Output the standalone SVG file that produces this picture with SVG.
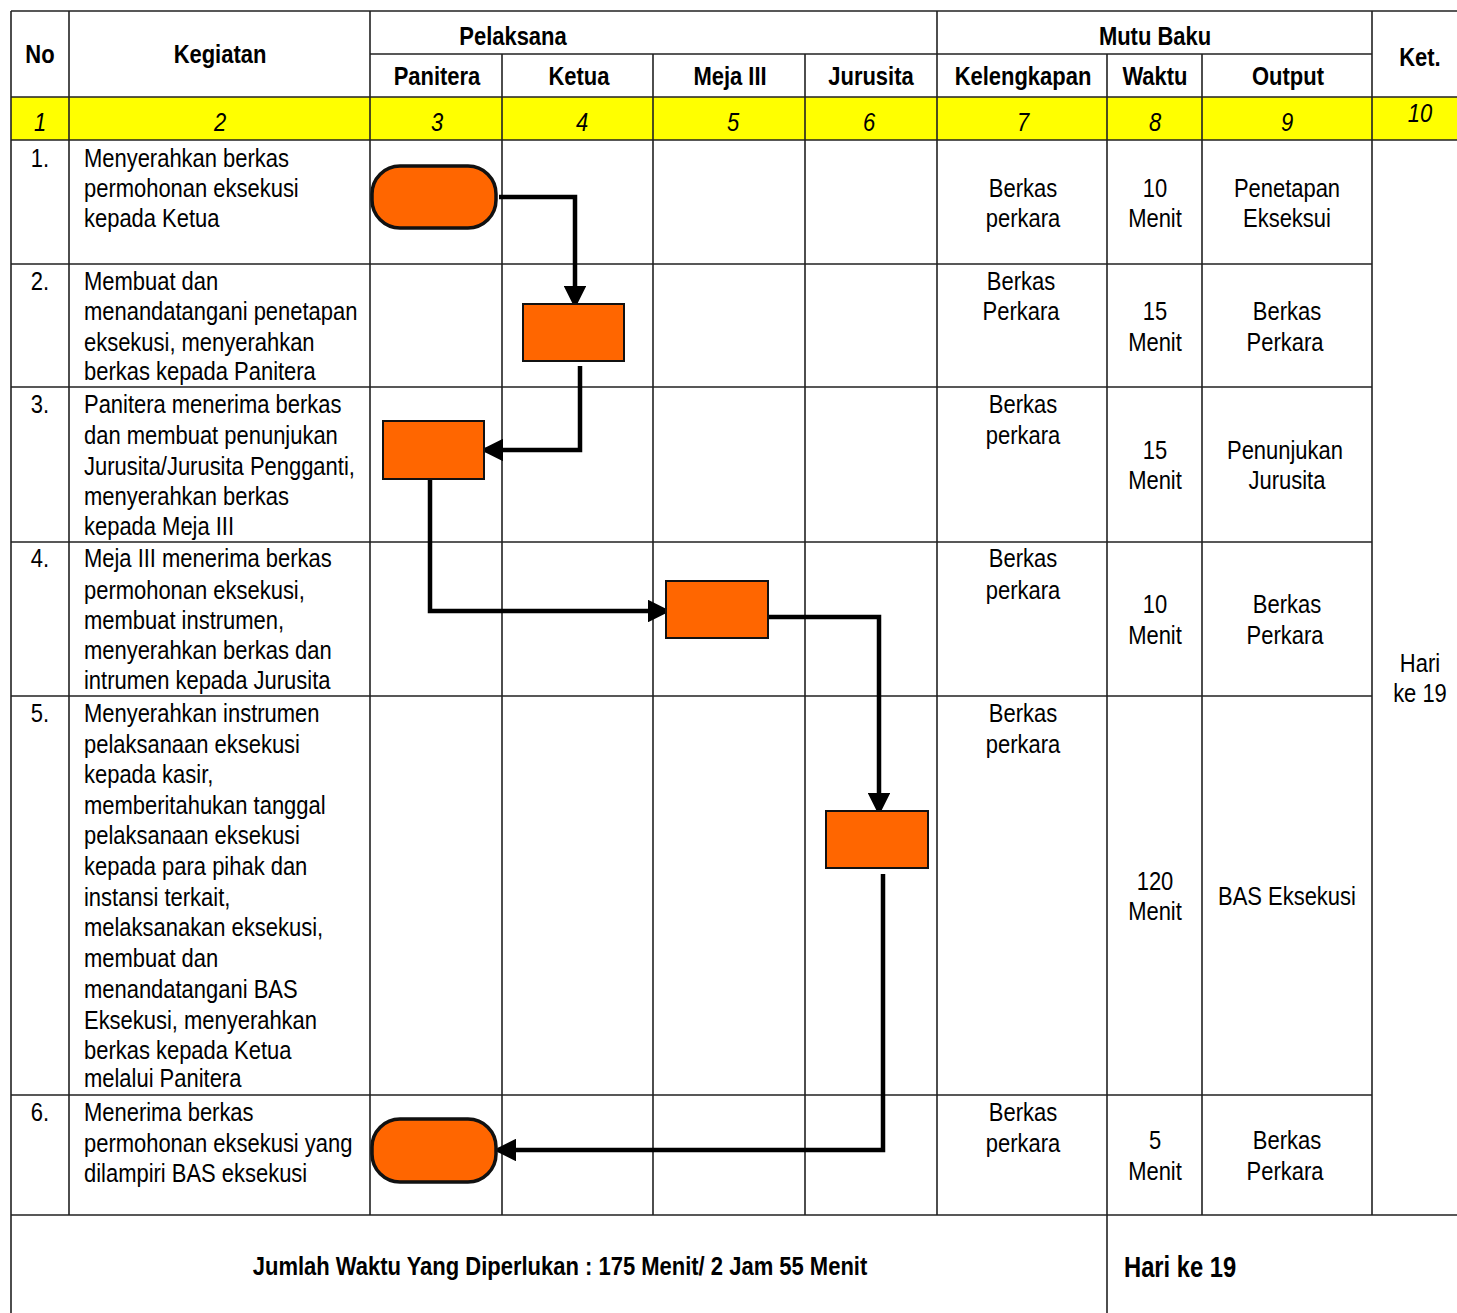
<svg xmlns="http://www.w3.org/2000/svg" width="1457" height="1313" viewBox="0 0 1457 1313">
<style>
text{font-family:"Liberation Sans Narrow","Arial Narrow","Liberation Sans",sans-serif;font-size:26px;fill:#000}
.b{font-weight:bold}
.c{text-anchor:middle}
.i{font-style:italic}
.g{stroke:#222;stroke-width:1.6;fill:none}
.n{fill:#ff6600;stroke:#111;stroke-width:2}
.t{fill:#ff6600;stroke:#111;stroke-width:3.5}
.e{fill:none;stroke:#000;stroke-width:4.5}
</style>
<defs>
<marker id="ah" markerWidth="5" markerHeight="5" refX="4" refY="2.5" orient="auto" markerUnits="strokeWidth">
<path d="M0,0 L5,2.5 L0,5 Z" fill="#000"/>
</marker>
</defs>
<rect x="0" y="0" width="1457" height="1313" fill="#fff"/>
<rect x="11" y="97" width="1446" height="43" fill="#ffff00"/>
<g id="grid">
<path class="g" d="M11,11H1457 M370,54H1372 M11,97H1457 M11,140H1457 M11,264H1372 M11,387H1372 M11,542H1372 M11,696H1372 M11,1095H1372 M11,1215H1457"/>
<path class="g" d="M11,11V1313 M69,11V1215 M370,11V1215 M502,54V1215 M653,54V1215 M805,54V1215 M937,11V1215 M1107,54V1313 M1202,54V1215 M1372,11V1215"/>
</g>
<g id="header" transform="scale(0.845 1)">
<text class="b c" x="47.34" y="63">No</text>
<text class="b c" x="260.36" y="63">Kegiatan</text>
<text class="b c" x="607.10" y="45">Pelaksana</text>
<text class="b c" x="517.16" y="85">Panitera</text>
<text class="b c" x="685.21" y="85">Ketua</text>
<text class="b c" x="863.90" y="85">Meja III</text>
<text class="b c" x="1030.77" y="85">Jurusita</text>
<text class="b c" x="1366.86" y="45">Mutu Baku</text>
<text class="b c" x="1210.65" y="85">Kelengkapan</text>
<text class="b c" x="1366.86" y="85">Waktu</text>
<text class="b c" x="1524.26" y="85">Output</text>
<text class="b c" x="1680.47" y="66">Ket.</text>
<text class="i c" x="47.34" y="131">1</text>
<text class="i c" x="260.36" y="131">2</text>
<text class="i c" x="517.16" y="131">3</text>
<text class="i c" x="688.76" y="131">4</text>
<text class="i c" x="867.45" y="131">5</text>
<text class="i c" x="1028.40" y="131">6</text>
<text class="i c" x="1210.65" y="131">7</text>
<text class="i c" x="1366.86" y="131">8</text>
<text class="i c" x="1523.07" y="131">9</text>
<text class="i c" x="1680.47" y="122">10</text>
</g>
<g id="row1" transform="scale(0.845 1)">
<text class="c" x="47.34" y="167">1.</text>
<text x="99.41" y="167">Menyerahkan berkas</text>
<text x="99.41" y="197">permohonan eksekusi</text>
<text x="99.41" y="227">kepada Ketua</text>
<text class="c" x="1210.65" y="197">Berkas</text>
<text class="c" x="1210.65" y="227">perkara</text>
<text class="c" x="1366.86" y="197">10</text>
<text class="c" x="1366.86" y="227">Menit</text>
<text class="c" x="1523.07" y="197">Penetapan</text>
<text class="c" x="1523.07" y="227">Ekseksui</text>
</g>
<g id="row2" transform="scale(0.845 1)">
<text class="c" x="47.34" y="290">2.</text>
<text x="99.41" y="290">Membuat dan</text>
<text x="99.41" y="320">menandatangani penetapan</text>
<text x="99.41" y="351">eksekusi, menyerahkan</text>
<text x="99.41" y="380">berkas kepada Panitera</text>
<text class="c" x="1208.28" y="290">Berkas</text>
<text class="c" x="1208.28" y="320">Perkara</text>
<text class="c" x="1366.86" y="320">15</text>
<text class="c" x="1366.86" y="351">Menit</text>
<text class="c" x="1523.07" y="320">Berkas</text>
<text class="c" x="1520.71" y="351">Perkara</text>
</g>
<g id="row3" transform="scale(0.845 1)">
<text class="c" x="47.34" y="413">3.</text>
<text x="99.41" y="413">Panitera menerima berkas</text>
<text x="99.41" y="444">dan membuat penunjukan</text>
<text x="99.41" y="475">Jurusita/Jurusita Pengganti,</text>
<text x="99.41" y="505">menyerahkan berkas</text>
<text x="99.41" y="535">kepada Meja III</text>
<text class="c" x="1210.65" y="413">Berkas</text>
<text class="c" x="1210.65" y="444">perkara</text>
<text class="c" x="1366.86" y="459">15</text>
<text class="c" x="1366.86" y="489">Menit</text>
<text class="c" x="1520.71" y="459">Penunjukan</text>
<text class="c" x="1523.07" y="489">Jurusita</text>
</g>
<g id="row4" transform="scale(0.845 1)">
<text class="c" x="47.34" y="567">4.</text>
<text x="99.41" y="567">Meja III menerima berkas</text>
<text x="99.41" y="599">permohonan eksekusi,</text>
<text x="99.41" y="629">membuat instrumen,</text>
<text x="99.41" y="659">menyerahkan berkas dan</text>
<text x="99.41" y="689">intrumen kepada Jurusita</text>
<text class="c" x="1210.65" y="567">Berkas</text>
<text class="c" x="1210.65" y="599">perkara</text>
<text class="c" x="1366.86" y="613">10</text>
<text class="c" x="1366.86" y="644">Menit</text>
<text class="c" x="1523.07" y="613">Berkas</text>
<text class="c" x="1520.71" y="644">Perkara</text>
</g>
<g id="row5" transform="scale(0.845 1)">
<text class="c" x="47.34" y="722">5.</text>
<text x="99.41" y="722">Menyerahkan instrumen</text>
<text x="99.41" y="753">pelaksanaan eksekusi</text>
<text x="99.41" y="783">kepada kasir,</text>
<text x="99.41" y="814">memberitahukan tanggal</text>
<text x="99.41" y="844">pelaksanaan eksekusi</text>
<text x="99.41" y="875">kepada para pihak dan</text>
<text x="99.41" y="906">instansi terkait,</text>
<text x="99.41" y="936">melaksanakan eksekusi,</text>
<text x="99.41" y="967">membuat dan</text>
<text x="99.41" y="998">menandatangani BAS</text>
<text x="99.41" y="1029">Eksekusi, menyerahkan</text>
<text x="99.41" y="1059">berkas kepada Ketua</text>
<text x="99.41" y="1087">melalui Panitera</text>
<text class="c" x="1210.65" y="722">Berkas</text>
<text class="c" x="1210.65" y="753">perkara</text>
<text class="c" x="1366.86" y="890">120</text>
<text class="c" x="1366.86" y="920">Menit</text>
<text class="c" x="1523.07" y="905">BAS Eksekusi</text>
</g>
<g id="row6" transform="scale(0.845 1)">
<text class="c" x="47.34" y="1121">6.</text>
<text x="99.41" y="1121">Menerima berkas</text>
<text x="99.41" y="1152">permohonan eksekusi yang</text>
<text x="99.41" y="1182">dilampiri BAS eksekusi</text>
<text class="c" x="1210.65" y="1121">Berkas</text>
<text class="c" x="1210.65" y="1152">perkara</text>
<text class="c" x="1366.86" y="1149">5</text>
<text class="c" x="1366.86" y="1180">Menit</text>
<text class="c" x="1523.07" y="1149">Berkas</text>
<text class="c" x="1520.71" y="1180">Perkara</text>
</g>
<g id="ket" transform="scale(0.845 1)">
<text class="c" x="1680.47" y="672">Hari</text>
<text class="c" x="1680.47" y="702">ke 19</text>
</g>
<g id="footer">
<text class="b c" x="636.36" y="1275" transform="scale(0.88 1)" style="font-size:25px">Jumlah Waktu Yang Diperlukan : 175 Menit/ 2 Jam 55 Menit</text>
<text class="b" x="1370.73" y="1277" transform="scale(0.82 1)" style="font-size:29px">Hari ke 19</text>
</g>
<g id="connectors">
<path class="e" d="M499,197H575V304" marker-end="url(#ah)"/>
<path class="e" d="M580,366V450H485" marker-end="url(#ah)"/>
<path class="e" d="M430,479V611H666" marker-end="url(#ah)"/>
<path class="e" d="M768,617H879V811" marker-end="url(#ah)"/>
<path class="e" d="M883,874V1150H498" marker-end="url(#ah)"/>
</g>
<g id="start"><rect class="t" x="372" y="166" width="124" height="62" rx="28"/></g>
<g id="step2"><rect class="n" x="523" y="304" width="101" height="57"/></g>
<g id="step3"><rect class="n" x="383" y="421" width="101" height="58"/></g>
<g id="step4"><rect class="n" x="666" y="581" width="102" height="57"/></g>
<g id="step5"><rect class="n" x="826" y="811" width="102" height="57"/></g>
<g id="end"><rect class="t" x="372" y="1119" width="124" height="63" rx="28"/></g>
</svg>
